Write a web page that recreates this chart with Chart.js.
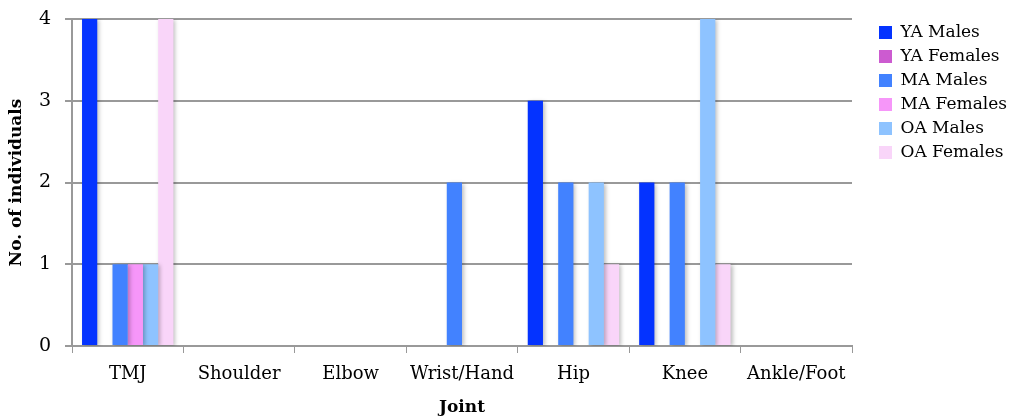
<!DOCTYPE html>
<html>
<head>
<meta charset="utf-8">
<script src="https://cdn.jsdelivr.net/npm/chart.js@4/dist/chart.umd.min.js"></script>
<style>
  html, body { margin: 0; padding: 0; background: #fff; }
  #wrap { width: 1010px; height: 418px; position: relative; }
</style>
</head>
<body>
<div id="wrap"><canvas id="jointChart"></canvas></div>
<script>
  const joints = ['TMJ', 'Shoulder', 'Elbow', 'Wrist/Hand', 'Hip', 'Knee', 'Ankle/Foot'];
  const yaMales   = [4, 0, 0, 0, 3, 2, 0];
  const yaFemales = [0, 0, 0, 0, 0, 0, 0];
  const maMales   = [1, 0, 0, 2, 2, 2, 0];
  const maFemales = [1, 0, 0, 0, 0, 0, 0];
  const oaMales   = [1, 0, 0, 0, 2, 4, 0];
  const oaFemales = [4, 0, 0, 0, 1, 1, 0];
  const yTicks = [0, 1, 2, 3, 4];

  const serif = '"DejaVu Serif", serif';

  // soft shadow behind the bars, like the original
  const barShadow = {
    id: 'barShadow',
    beforeDatasetsDraw(chart) {
      const c = chart.ctx;
      c.save();
      c.shadowColor = 'rgba(0,0,0,0.25)';
      c.shadowBlur = 4;
      c.shadowOffsetX = 2;
      c.shadowOffsetY = 1;
    },
    afterDatasetsDraw(chart) {
      chart.ctx.restore();
    }
  };

  // keep the legend column a fixed width and nudge its items into place
  const legendPlace = {
    id: 'legendPlace',
    afterInit(chart) {
      const lg = chart.legend;
      const fit = lg.fit.bind(lg);
      lg.fit = function () { fit(); this.width = 158; };
    },
    afterLayout(chart) {
      chart.legend.left += 20;
      chart.legend.top -= 2;
    }
  };

  function ds(label, data, color) {
    return { label: label, data: data, backgroundColor: color, borderWidth: 0 };
  }

  new Chart(document.getElementById('jointChart'), {
    type: 'bar',
    data: {
      labels: joints,
      datasets: [
        ds('YA Males', yaMales, '#0433FF'),
        ds('YA Females', yaFemales, '#CC5BD0'),
        ds('MA Males', maMales, '#4282FF'),
        ds('MA Females', maFemales, '#F696F9'),
        ds('OA Males', oaMales, '#8EC3FF'),
        ds('OA Females', oaFemales, '#F9D5F9')
      ]
    },
    options: {
      responsive: true,
      maintainAspectRatio: false,
      animation: false,
      categoryPercentage: 0.82,
      barPercentage: 1.0,
      layout: { padding: { top: 19, right: 0, left: 0, bottom: 0 } },
      plugins: {
        tooltip: { enabled: false },
        legend: {
          position: 'right',
          align: 'start',
          labels: {
            font: { family: serif, size: 17 },
            color: '#000',
            boxWidth: 13,
            boxHeight: 13,
            padding: 7,
            useBorderRadius: false
          }
        }
      },
      scales: {
        x: {
          offset: true,
          grid: { offset: true, drawOnChartArea: false, color: '#999', tickLength: 7 },
          border: { color: '#999', width: 2 },
          ticks: { font: { family: serif, size: 18 }, color: '#000', padding: 11, maxRotation: 0 },
          title: { display: true, text: 'Joint', font: { family: serif, size: 17, weight: 'bold' }, color: '#000', padding: { top: 1, bottom: 0 } }
        },
        y: {
          min: 0,
          max: 4,
          afterBuildTicks(axis) { axis.ticks = yTicks.map(v => ({ value: v })); },
          afterFit(axis) {
            axis.width = 72;
            axis.paddingTop = 11;
            axis.paddingBottom = 11;
          },
          grid: { color: '#999', lineWidth: 2, tickLength: 7 },
          border: { color: '#999', width: 2 },
          ticks: { font: { family: serif, size: 19 }, color: '#000', padding: 14 },
          title: { display: true, text: 'No. of individuals', font: { family: serif, size: 17, weight: 'bold' }, color: '#000', padding: { top: 6, bottom: 0 } }
        }
      }
    },
    plugins: [barShadow, legendPlace]
  });
</script>
</body>
</html>
